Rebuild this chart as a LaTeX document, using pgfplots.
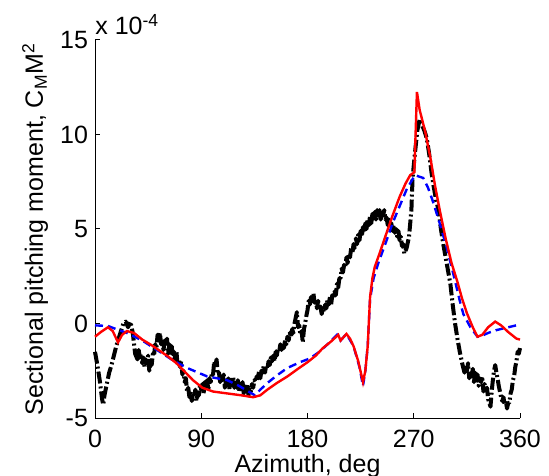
\documentclass[border=0pt]{standalone}
\usepackage{fontspec}
\setmainfont{Liberation Sans}
\usepackage{pgfplots}
\pgfplotsset{compat=1.18}

% measured (black), two model curves (blue dashed, red solid); y in units of 1e-4
\pgfplotstableread{
az y
0 -1.5
2 -2.2
4 -3.0
6 -4.0
7 -4.3
8 -3.8
10 -3.2
12 -2.6
14 -2.2
16 -1.7
18 -1.2
20 -0.8
22 -0.4
24 0.0
26 0.1
28 -0.2
30 0.1
32 -0.5
34 -1.6
36 -1.9
37 -1.4
38 -1.8
39 -1.6
40 -2.1
41 -1.8
42 -2.3
43 -1.9
44 -2.1
45 -1.7
46 -2.5
47 -2.0
48 -2.2
49 -1.6
50 -1.7
51 -1.1
52 -1.3
53 -0.6
54 -0.8
55 -0.5
56 -1.1
57 -0.9
58 -1.4
59 -0.9
60 -1.2
61 -0.8
62 -1.6
63 -1.1
64 -1.5
65 -1.2
66 -1.9
67 -1.5
68 -1.9
69 -1.5
70 -2.2
71 -1.9
72 -2.3
73 -2.0
74 -2.7
75 -2.5
76 -3.1
77 -2.9
78 -3.6
79 -3.4
80 -3.9
81 -3.6
82 -4.1
83 -3.7
84 -3.9
85 -3.5
86 -4.1
87 -3.7
88 -3.8
89 -3.2
90 -3.5
91 -3.2
92 -3.7
93 -3.1
94 -3.4
95 -3.0
96 -3.5
97 -2.9
98 -3.1
99 -2.6
100 -2.7
101 -2.0
102 -2.2
103 -1.9
104 -2.7
105 -2.6
106 -3.1
107 -2.7
108 -3.0
109 -2.7
110 -3.4
111 -3.0
112 -3.2
113 -2.9
114 -3.5
115 -3.0
116 -3.2
117 -2.8
118 -3.4
119 -3.0
120 -3.4
121 -3.0
122 -3.6
123 -3.2
124 -3.5
125 -3.1
126 -3.7
127 -3.3
128 -3.6
129 -3.2
130 -3.8
131 -3.4
132 -3.6
133 -3.2
134 -3.4
135 -3.0
136 -3.1
137 -2.8
138 -2.9
139 -2.5
140 -2.9
141 -2.5
142 -2.6
143 -2.2
144 -2.6
145 -2.2
146 -2.4
147 -2.0
148 -2.2
149 -1.8
150 -2.0
151 -1.7
152 -2.0
153 -1.5
154 -1.7
155 -1.3
156 -1.5
157 -1.1
158 -1.4
159 -1.0
160 -1.3
161 -0.9
162 -1.1
163 -0.7
164 -0.9
165 -0.5
166 -0.7
167 -0.3
168 -0.5
169 0.0
170 0.3
171 0.6
172 -0.2
173 -0.1
174 -0.6
175 -0.4
176 -1.0
177 -0.3
178 0.0
179 0.4
180 0.7
181 1.2
182 1.0
183 1.4
184 1.2
185 1.6
186 1.1
187 1.3
188 0.8
189 1.2
190 0.8
191 0.9
192 0.5
193 0.8
194 0.6
195 1.0
196 0.8
197 1.3
198 1.0
199 1.4
200 1.0
201 1.5
202 1.3
203 1.7
204 1.5
205 2.1
206 1.9
207 2.4
208 2.4
209 2.9
210 2.7
211 3.1
212 3.0
213 3.5
214 3.2
215 3.7
216 3.5
217 4.0
218 3.7
219 4.2
220 4.0
221 4.5
222 4.2
223 4.7
224 4.4
225 4.9
226 4.6
227 5.1
228 4.8
229 5.3
230 5.0
231 5.5
232 5.2
233 5.7
234 5.3
235 5.8
236 5.4
237 5.9
238 5.5
239 6.0
240 5.6
241 6.0
242 5.5
243 6.0
244 5.7
245 6.0
246 5.5
247 5.6
248 5.2
249 5.5
250 5.2
251 5.3
252 4.9
253 5.2
254 4.8
255 5.0
256 4.6
257 4.9
258 4.4
259 4.6
260 4.1
261 4.2
262 3.7
264 4.0
266 4.6
268 6.0
269 7.7
271 9.0
273 10.2
275 10.8
277 10.5
279 10.2
281 9.8
283 9.0
285 8.0
287 7.2
289 6.5
291 6.0
293 5.0
295 4.2
297 3.5
299 2.8
301 2.1
303 1.0
305 0.0
307 -0.8
309 -1.5
311 -2.1
313 -2.6
314 -2.2
315 -2.5
316 -2.1
317 -2.9
318 -2.5
319 -2.8
320 -2.4
321 -3.1
322 -2.6
323 -3.0
324 -2.7
325 -3.3
326 -2.9
327 -3.1
328 -2.8
329 -3.6
330 -3.2
331 -3.5
332 -3.4
333 -4.0
334 -4.2
335 -4.4
336 -3.6
337 -3.0
338 -2.5
339 -2.2
340 -2.6
341 -2.9
342 -3.3
343 -3.6
344 -3.9
345 -4.1
346 -3.9
347 -4.3
348 -4.1
349 -4.5
350 -4.2
351 -4.2
352 -3.7
353 -3.5
354 -3.0
355 -2.8
356 -2.3
357 -2.0
358 -1.5
359 -1.6
360 -1.3
}\measured

\pgfplotstableread{
az y
0 -0.1
11 -0.13
18 -0.3
27 -0.5
40 -0.9
55 -1.5
66 -1.95
78 -2.35
95 -2.8
112 -3.0
122 -3.3
130 -3.6
135.5 -3.8
140 -3.5
147 -3.1
154 -2.75
163 -2.35
173.6 -2.05
182 -1.85
190 -1.5
197 -1.1
205 -0.6
208 -0.9
213 -0.55
219 -1.2
224 -2.3
227 -3.3
229 -2.5
231 -1.2
233 1.3
236 2.4
240 3.2
247 4.4
252 5.3
258 6.2
264 7.1
271 7.85
278 7.7
282 7.2
286 6.5
292 5.3
298 4.0
304 2.5
309 1.2
312 0.5
318 -0.2
324 -0.7
326 -0.7
333 -0.5
340 -0.35
350 -0.2
360 -0.05
}\modelA

\pgfplotstableread{
az y
0 -0.7
5 -0.45
11 -0.2
15 -0.4
19.5 -1.0
23 -0.6
27 -0.4
33 -0.5
40 -0.85
48 -1.15
55 -1.45
62 -1.75
69 -2.1
76 -2.55
83 -3.0
91 -3.4
100 -3.6
112 -3.7
124 -3.8
134 -3.9
140 -3.8
146 -3.5
154 -3.15
163 -2.8
173 -2.35
180 -2.05
187 -1.7
193 -1.3
200 -0.95
206 -0.6
208 -0.9
213 -0.55
216 -0.8
219 -1.2
223 -2.0
227 -3.1
229 -2.5
231 -1.2
233 1.4
235 2.4
237 3.0
241 3.7
247 4.8
252 5.7
258 6.7
263 7.4
267 7.85
270.5 8.0
272.7 12.25
275 11.3
279.5 10.2
284 8.8
288 7.3
292 6.0
297 4.5
302 3.2
307 2.2
311 1.3
315 0.55
320 -0.2
324 -0.7
328 -0.6
333 -0.2
339 0.1
344 -0.1
350 -0.45
357 -0.8
360 -0.85
}\modelB

\begin{document}
\begin{tikzpicture}
\begin{axis}[
    name=ax,
    scale only axis,
    width=212.5pt, height=189pt,
    xmin=0, xmax=360, ymin=-5, ymax=15,
    axis lines=left,
    axis line style={-, black, line width=0.5pt},
    xtick={0,90,180,270,360},
    ytick={-5,0,5,10,15},
    tick align=inside,
    major tick length=2.5pt,
    tick style={black, line width=0.5pt},
    /pgf/number format/assume math mode=true,
    ticklabel style={font=\fontsize{12.5}{14}\selectfont},
    xticklabel style={yshift=-2.5pt},
    every axis x label/.style={at={(axis description cs:0.5,0)}, anchor=base, yshift=-27pt, font=\fontsize{12.5}{14}\selectfont},
    every axis y label/.style={at={(axis description cs:-0.1224,0.5)}, anchor=base, rotate=90, font=\fontsize{12.5}{14}\selectfont},
    xlabel={Azimuth, deg},
    ylabel={Sectional pitching moment, C\textsubscript{M}M\textsuperscript{2}},
    clip=false,
]
\addplot[black, line width=2pt, line join=round, dash pattern=on 6pt off 1.5pt on 1pt off 1.5pt] table[x=az,y=y] {\measured};
\addplot[blue, line width=1.2pt, dash pattern=on 4pt off 2.5pt] table[x=az,y=y] {\modelA};
\addplot[red, line width=1.2pt] table[x=az,y=y] {\modelB};
\node[anchor=base west, font=\fontsize{12.5}{14}\selectfont, inner sep=0pt] at (rel axis cs:0,1) [yshift=2.5pt] {x 10\textsuperscript{-4}};
\end{axis}
\pgfresetboundingbox
\path[use as bounding box] ([xshift=-47.5pt,yshift=-28.5pt]ax.south west) rectangle ++(274.5pt,237.5pt);
\end{tikzpicture}
\end{document}
